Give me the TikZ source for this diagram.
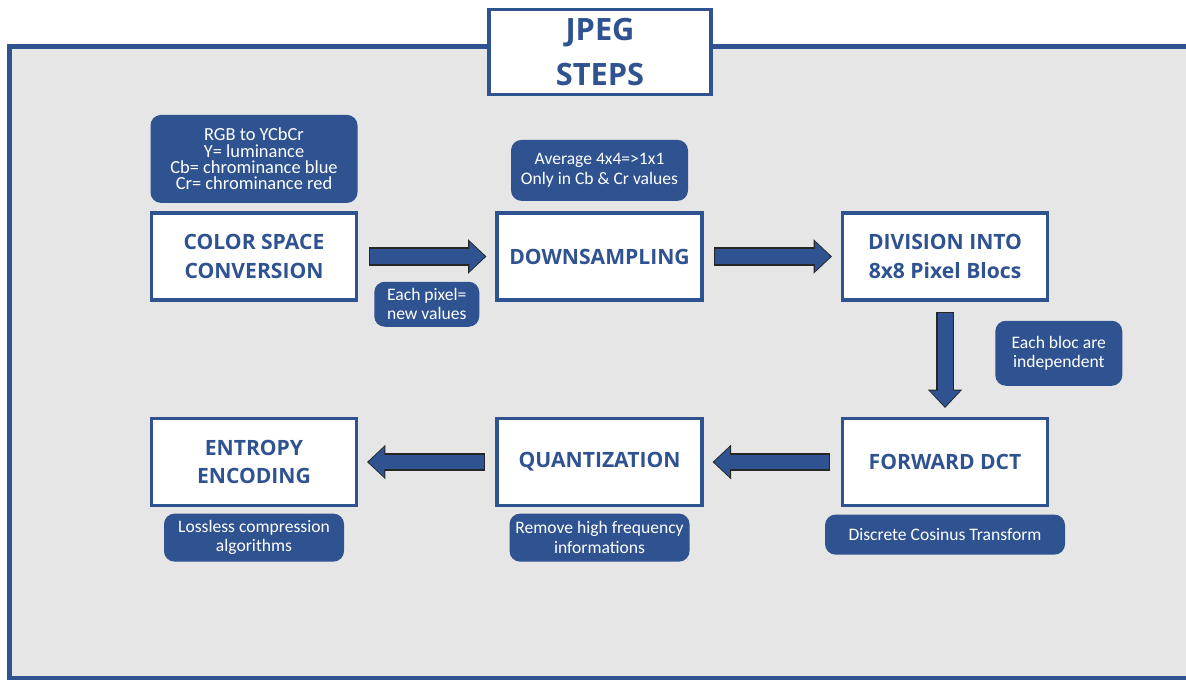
\documentclass[tikz,border=0pt]{standalone}
\usepackage{fontspec}
\setmainfont{Open Sans}
\newfontfamily\notefont{Carlito}
\usetikzlibrary{positioning, arrows.meta, calc}
\definecolor{jpegblue}{HTML}{2F5291}
\definecolor{panelgray}{HTML}{E6E6E6}

\begin{document}
\begin{tikzpicture}[
    node distance=2.3cm and 2.74cm,
    stepbox/.style={rectangle, draw=jpegblue, line width=2pt, fill=white, minimum width=4.1cm, minimum height=1.74cm, align=center, text=jpegblue, font=\bfseries\fontsize{12}{16}\selectfont},
    titlebox/.style={rectangle, draw=jpegblue, line width=1.8pt, fill=white, minimum width=4.44cm, minimum height=1.7cm, align=center, text=jpegblue, font=\bfseries\fontsize{17.5}{25.6}\selectfont},
    note/.style={rectangle, fill=jpegblue, rounded corners=6pt, text=white, align=center, font=\notefont\fontsize{10}{11}\selectfont},
    fatline/.style={line width=10.5pt, draw=black!85, -{Triangle[length=10.5pt, width=19pt]}, shorten <=6pt, shorten >=5pt},
    fatfill/.style={line width=8.5pt, draw=jpegblue, -{Triangle[length=9pt, width=16.5pt]}, shorten <=6.5pt, shorten >=5.8pt}
]

\useasboundingbox (0,0) rectangle (23.72,-13.6);
\clip (0,0) rectangle (23.72,-13.6);

% Panel and title
\draw[jpegblue, line width=2.3pt, fill=panelgray] (0.19,-0.93) rectangle (24.2,-13.56);
\node[titlebox] (title) at (12.0,-1.04) {JPEG\\STEPS};

% Top row
\node[stepbox] (csc) at (5.08,-5.13) {COLOR SPACE\\CONVERSION};
\node[stepbox, right=of csc] (ds) {DOWNSAMPLING};
\node[stepbox, right=of ds] (div) {DIVISION INTO\\8x8 Pixel Blocs};

% Bottom row
\node[stepbox, below=of div] (dct) {FORWARD DCT};
\node[stepbox, left=of dct] (quant) {QUANTIZATION};
\node[stepbox, left=of quant] (entropy) {ENTROPY\\ENCODING};

% Notes
\node[note, minimum width=4.14cm, minimum height=1.76cm, above=0.16cm of csc, font=\notefont\fontsize{10.5}{9.2}\selectfont] (rgb) {RGB to YCbCr\\Y= luminance\\Cb= chrominance blue\\Cr= chrominance red};
\node[note, minimum width=3.54cm, minimum height=1.22cm, above=0.2cm of ds] (avg) {Average 4x4=>1x1\\Only in Cb \& Cr values};
\node[note, minimum width=2.1cm, minimum height=0.9cm] (pix) at ($(csc.south east)!0.5!(ds.south west)+(0,-0.05)$) {Each pixel=\\new values};
\node[note, minimum width=2.54cm, minimum height=1.3cm] (bloc) at ($(div.south east)!0.5!(dct.north east)+(0.19,0.12)$) {Each bloc are\\independent};
\node[note, minimum width=4.8cm, minimum height=0.8cm, below=0.14cm of dct] (dctnote) {Discrete Cosinus Transform};
\node[note, minimum width=3.6cm, minimum height=0.96cm, below=0.12cm of quant] (remove) {Remove high frequency\\informations};
\node[note, minimum width=3.6cm, minimum height=0.96cm, below=0.12cm of entropy] (lossless) {Lossless compression\\algorithms};

% Arrows
\draw[fatline] (csc) -- (ds);
\draw[fatfill] (csc) -- (ds);
\draw[fatline] (ds) -- (div);
\draw[fatfill] (ds) -- (div);
\draw[fatline] (div) -- (dct);
\draw[fatfill] (div) -- (dct);
\draw[fatline] (dct) -- (quant);
\draw[fatfill] (dct) -- (quant);
\draw[fatline] (quant) -- (entropy);
\draw[fatfill] (quant) -- (entropy);

\end{tikzpicture}
\end{document}
